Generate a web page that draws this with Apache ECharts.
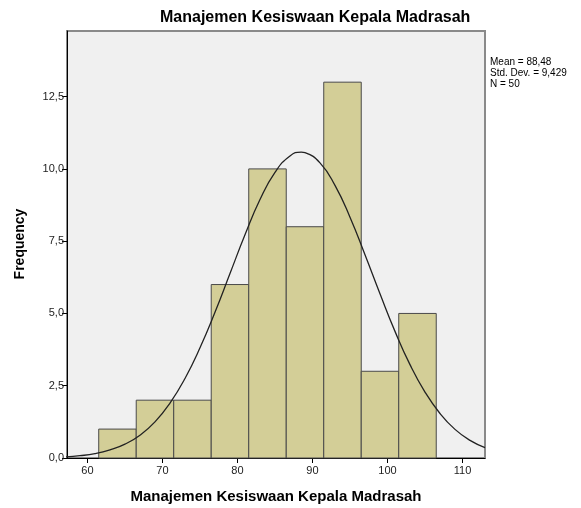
<!DOCTYPE html>
<html>
<head>
<meta charset="utf-8">
<script src="https://cdn.jsdelivr.net/npm/echarts@6/dist/echarts.min.js"></script>
<style>html,body{margin:0;padding:0;background:#fff}#c{width:581px;height:508px}</style>
</head>
<body>
<div id="c"></div>
<script>
// Histogram bins (lower edge) and counts
var binStarts = [61.5, 66.5, 71.5, 76.5, 81.5, 86.5, 91.5, 96.5, 101.5];
var binWidth = 5;
var counts = [1, 2, 2, 6, 10, 8, 13, 3, 5];
// Fitted normal curve
var curveX = [57, 59, 61, 63, 65, 67, 69, 71, 73, 75, 77, 79, 81, 83, 85, 87, 88.5, 89, 91, 93, 95, 97, 99, 101, 103, 105, 107, 109, 111, 113];
var curveY = [0.04, 0.08, 0.15, 0.28, 0.48, 0.79, 1.25, 1.90, 2.75, 3.81, 5.04, 6.38, 7.72, 8.94, 9.88, 10.45, 10.58, 10.56, 10.21, 9.43, 8.33, 7.03, 5.68, 4.38, 3.23, 2.28, 1.54, 0.99, 0.61, 0.36];
var xTicks = [60, 70, 80, 90, 100, 110];
var yTicks = [0, 2.5, 5, 7.5, 10, 12.5];
var titleText = 'Manajemen Kesiswaan Kepala Madrasah';
var xTitle = 'Manajemen Kesiswaan Kepala Madrasah';
var yTitle = 'Frequency';
var statsLines = ['Mean = 88,48', 'Std. Dev. = 9,429', 'N = 50'];

var FONT = '"Liberation Sans", Arial, sans-serif';
var chart = echarts.init(document.getElementById('c'), null, {renderer: 'canvas'});

var barData = binStarts.map(function (s, i) { return [s, s + binWidth, counts[i]]; });
var curveData = curveX.map(function (x, i) { return [x, curveY[i]]; });

chart.setOption({
  animation: false,
  grid: {left: 67, top: 31, width: 418, height: 427, show: true, backgroundColor: '#F0F0F0', borderColor: '#8a8a8a', borderWidth: 2, containLabel: false},
  xAxis: {
    type: 'value', min: 57.27, max: 113,
    axisLine: {show: true, onZero: false, lineStyle: {color: '#000', width: 1}},
    axisTick: {show: true, length: 5, customValues: xTicks, lineStyle: {color: '#000'}},
    axisLabel: {customValues: xTicks, color: '#222', fontFamily: FONT, fontSize: 11, margin: 7},
    splitLine: {show: false}
  },
  yAxis: {
    type: 'value', min: 0, max: 14.77,
    axisLine: {show: true, lineStyle: {color: '#000', width: 1}},
    axisTick: {show: true, length: 5, customValues: yTicks, lineStyle: {color: '#000'}},
    axisLabel: {customValues: yTicks, color: '#222', fontFamily: FONT, fontSize: 11, margin: 3,
      formatter: function (v) { return v.toFixed(1).replace('.', ','); }},
    splitLine: {show: false}
  },
  series: [
    {
      type: 'custom',
      data: barData,
      encode: {x: [0, 1], y: 2},
      renderItem: function (params, api) {
        var p0 = api.coord([api.value(0), api.value(2)]);
        var p1 = api.coord([api.value(1), 0]);
        return {
          type: 'rect',
          shape: {x: p0[0], y: p0[1], width: p1[0] - p0[0], height: p1[1] - p0[1]},
          style: {fill: '#D3CE97', stroke: '#4a4a4a', lineWidth: 1}
        };
      },
      z: 2
    },
    {
      type: 'line', data: curveData, smooth: true, showSymbol: false, symbol: 'none',
      lineStyle: {color: '#222', width: 1.3}, z: 3, clip: true
    }
  ],
  graphic: [
    {type: 'text', left: 160, top: 10, style: {text: titleText, font: 'bold 16px ' + FONT, fill: '#000'}},
    {type: 'text', x: 276, y: 497, style: {text: xTitle, font: 'bold 15px ' + FONT, fill: '#000', textAlign: 'center', textVerticalAlign: 'middle'}},
    {type: 'text', x: 20, y: 244, rotation: Math.PI / 2, style: {text: yTitle, font: 'bold 14px ' + FONT, fill: '#000', textAlign: 'center', textVerticalAlign: 'middle'}},
    {type: 'text', left: 490, top: 57, style: {text: statsLines.join('\n'), font: '10px ' + FONT, lineHeight: 11, fill: '#000'}}
  ]
});
</script>
</body>
</html>
